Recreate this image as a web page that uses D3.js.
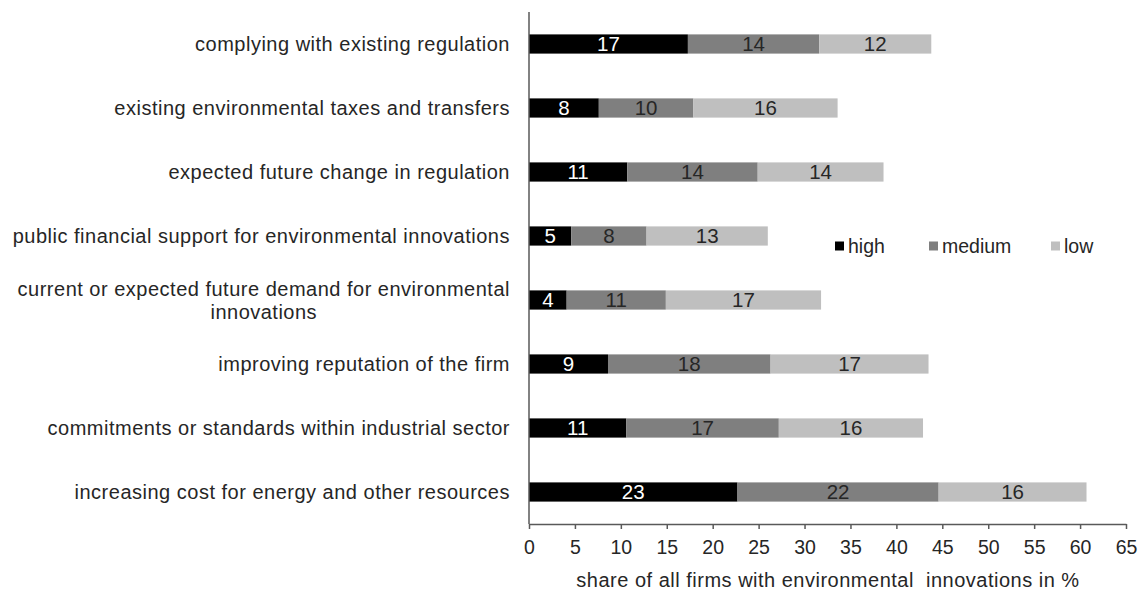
<!DOCTYPE html>
<html>
<head>
<meta charset="utf-8">
<script src="https://cdn.jsdelivr.net/npm/d3@7"></script>
<style>
  body { margin: 0; background: #fff; }
  svg { font-family: "Liberation Sans", Arial, sans-serif; }
</style>
</head>
<body>
<div id="chart"></div>
<script>
// categories, top to bottom
const categories = [
  "complying with existing regulation",
  "existing environmental taxes and transfers",
  "expected future change in regulation",
  "public financial support for environmental innovations",
  "current or expected future demand for environmental|innovations",
  "improving reputation of the firm",
  "commitments or standards within industrial sector",
  "increasing cost for energy and other resources"
];
// share of firms (%) by importance level
const high   = [17.3, 7.6, 10.7, 4.6, 4.1, 8.6, 10.6, 22.7];
const medium = [14.3, 10.3, 14.2, 8.2, 10.8, 17.7, 16.6, 21.9];
const low    = [12.2, 15.7, 13.7, 13.2, 16.9, 17.2, 15.7, 16.1];
const seriesNames = ["high", "medium", "low"];
const xTicks = [0, 5, 10, 15, 20, 25, 30, 35, 40, 45, 50, 55, 60, 65];
const xTitle = "share of all firms with environmental  innovations in %";

const W = 1146, H = 590;
const colors = { high: "#000000", medium: "#7f7f7f", low: "#bfbfbf" };
const textCol = "#262626";

const rows = categories.map((c, i) => ({ cat: c, high: high[i], medium: medium[i], low: low[i] }));
const stacked = d3.stack().keys(seriesNames)(rows);

const svg = d3.select("#chart").append("svg").attr("width", W).attr("height", H);

const x = d3.scaleLinear().domain([0, 65]).range([529, 1126]);
const y = d3.scaleBand().domain(categories).range([12, 524])
  .paddingInner(0.7).paddingOuter(0.35);

// bars
const layers = svg.append("g").selectAll("g").data(stacked).join("g")
  .attr("fill", d => colors[d.key]);

layers.selectAll("rect").data(d => d).join("rect")
  .attr("x", d => x(d[0]))
  .attr("width", d => x(d[1]) - x(d[0]))
  .attr("y", d => y(d.data.cat))
  .attr("height", y.bandwidth());

// value labels
layers.selectAll("text").data(d => d.map(v => ({ v, key: d.key }))).join("text")
  .attr("x", d => (x(d.v[0]) + x(d.v[1])) / 2)
  .attr("y", d => y(d.v.data.cat) + y.bandwidth() / 2)
  .attr("dy", "0.36em")
  .attr("text-anchor", "middle")
  .attr("font-size", 20.5)
  .attr("fill", d => d.key === "high" ? "#ffffff" : textCol)
  .text(d => Math.round(d.v[1] - d.v[0]));

// category labels
const catG = svg.append("g");
categories.forEach(c => {
  const lines = c.split("|");
  const cy = y(c) + y.bandwidth() / 2;
  const t = catG.append("text")
    .attr("font-size", 20)
    .attr("letter-spacing", 0.5)
    .attr("fill", textCol)
    .attr("text-anchor", lines.length > 1 ? "middle" : "end");
  if (lines.length === 1) {
    t.attr("x", 510).attr("y", cy).attr("dy", "0.35em").text(c);
  } else {
    lines.forEach((l, k) => {
      t.append("tspan").attr("x", 0).attr("y", cy + (k - (lines.length - 1) / 2) * 23)
        .attr("dy", "0.35em").text(l);
    });
    const bb = t.node().getBBox();
    // center wrapped lines on the widest one, right edge at 510
    t.selectAll("tspan").attr("x", 510 - bb.width / 2);
  }
});

// y axis line
svg.append("line")
  .attr("x1", x(0)).attr("x2", x(0))
  .attr("y1", 12).attr("y2", 524)
  .attr("stroke", "#595959").attr("stroke-width", 1.5);

// x axis
const xAxis = svg.append("g")
  .attr("transform", "translate(0,524)")
  .call(d3.axisBottom(x).tickValues(xTicks).tickSize(5).tickSizeOuter(0).tickPadding(11));
xAxis.select(".domain").attr("stroke", "#595959").attr("stroke-width", 1.5);
xAxis.selectAll(".tick line").attr("stroke", "#595959").attr("stroke-width", 1.5);
xAxis.selectAll(".tick text")
  .attr("font-size", 19.5)
  .attr("font-family", "\"Liberation Sans\", Arial, sans-serif")
  .attr("fill", textCol);

svg.append("text")
  .attr("x", 828).attr("y", 580).attr("dy", "0.35em")
  .attr("text-anchor", "middle")
  .attr("font-size", 20)
  .attr("letter-spacing", 0.5)
  .style("white-space", "pre")
  .attr("fill", textCol)
  .text(xTitle);

// legend
const legendX = [835, 929, 1051];
const legend = svg.append("g").selectAll("g").data(seriesNames).join("g")
  .attr("transform", (d, i) => `translate(${legendX[i]},246)`);
legend.append("rect")
  .attr("x", 0).attr("y", -4.5).attr("width", 9).attr("height", 9)
  .attr("fill", d => colors[d]);
legend.append("text")
  .attr("x", 13).attr("dy", "0.35em")
  .attr("font-size", 19.5)
  .attr("fill", textCol)
  .text(d => d);
</script>
</body>
</html>
